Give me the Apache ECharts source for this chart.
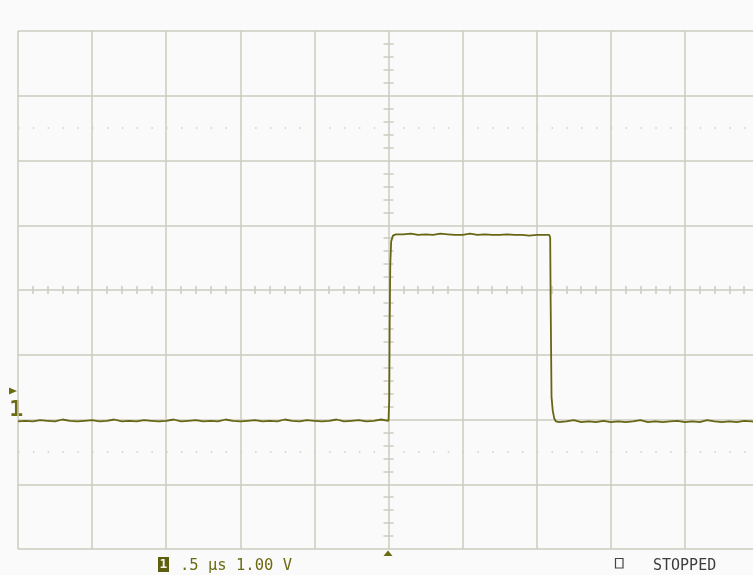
<!DOCTYPE html>
<html><head><meta charset="utf-8">
<script src="https://cdn.jsdelivr.net/npm/echarts@6/dist/echarts.min.js"></script>
<style>html,body{margin:0;padding:0;background:#fafafa}#c{width:753px;height:575px}</style>
</head><body><div id="c"></div>
<script>
// Time in microseconds (0.5 us/div), voltage in volts (1.00 V/div)
const preTime = [-2.50,-2.45,-2.40,-2.35,-2.30,-2.25,-2.20,-2.15,-2.10,-2.05,-2.00,-1.95,-1.90,-1.85,-1.80,-1.75,-1.70,-1.65,-1.60,-1.55,-1.50,-1.45,-1.40,-1.35,-1.30,-1.25,-1.20,-1.15,-1.10,-1.05,-1.00,-0.95,-0.90,-0.85,-0.80,-0.75,-0.70,-0.65,-0.60,-0.55,-0.50,-0.45,-0.40,-0.35,-0.30,-0.25,-0.20,-0.15,-0.10,-0.05,0.00];
const preVolt = [-0.03,-0.02,-0.03,-0.01,-0.02,-0.03,0.00,-0.02,-0.03,-0.02,-0.01,-0.03,-0.02,0.00,-0.03,-0.02,-0.03,-0.01,-0.02,-0.03,-0.02,0.00,-0.03,-0.02,-0.01,-0.03,-0.02,-0.03,0.00,-0.02,-0.03,-0.02,-0.01,-0.03,-0.02,-0.03,0.00,-0.02,-0.03,-0.01,-0.02,-0.03,-0.02,0.00,-0.03,-0.02,-0.01,-0.03,-0.02,0.00,-0.02];
const riseTime = [0.005,0.008,0.012,0.018,0.030,0.050];
const riseVolt = [0.30,1.50,2.40,2.75,2.84,2.86];
const topTime = [0.10,0.15,0.20,0.25,0.30,0.35,0.40,0.45,0.50,0.55,0.60,0.65,0.70,0.75,0.80,0.85,0.90,0.95,1.00,1.05];
const topVolt = [2.86,2.87,2.85,2.86,2.85,2.87,2.86,2.85,2.85,2.87,2.85,2.86,2.85,2.85,2.86,2.85,2.85,2.84,2.85,2.85];
const fallTime = [1.085,1.091,1.094,1.100,1.108,1.118,1.130];
const fallVolt = [2.85,2.81,1.85,0.35,0.14,0.02,-0.03];
const postTime = [1.15,1.20,1.25,1.30,1.35,1.40,1.45,1.50,1.55,1.60,1.65,1.70,1.75,1.80,1.85,1.90,1.95,2.00,2.05,2.10,2.15,2.20,2.25,2.30,2.35,2.40,2.45,2.50];
const postVolt = [-0.04,-0.03,-0.01,-0.04,-0.03,-0.04,-0.02,-0.04,-0.03,-0.04,-0.03,-0.01,-0.04,-0.03,-0.04,-0.03,-0.02,-0.04,-0.03,-0.04,-0.01,-0.03,-0.04,-0.03,-0.04,-0.02,-0.03,-0.04];
const dottedLevels = [-0.5, 4.5];
const bottomReadout = '.5 \u03bcs 1.00 V';
const statusText = 'STOPPED';
const channelLabel = '1';

const GRID = '#cbcbbf';
const TRACE = '#666614';
const OLIVE = '#6b6b14';
// visible time window: screen is cut a few pixels before the last graticule line
const T_MIN = -2.5, T_MAX = 2.4595;

const trace = [];
[[preTime, preVolt],[riseTime, riseVolt],[topTime, topVolt],[fallTime, fallVolt],[postTime, postVolt]].forEach(([t, v]) => {
  t.forEach((x, i) => trace.push([x, v[i]]));
});

const hidden = {axisLine:{show:false}, axisLabel:{show:false}, splitLine:{show:false}};
function centerX(inside){
  return Object.assign({type:'value', min:T_MIN, max:T_MAX, interval:0.5, position:'bottom', offset:-259,
    axisTick:{show:false, inside:inside}, minorTick:{show:true, splitNumber:5, length:4, lineStyle:{color:GRID, width:1.5}}}, hidden);
}
function centerY(inside){
  return Object.assign({type:'value', min:-2, max:6, interval:1, position:'left', offset:-370.5,
    axisTick:{show:false, inside:inside}, minorTick:{show:true, splitNumber:5, length:5, lineStyle:{color:GRID, width:1.5}}}, hidden);
}

const chart = echarts.init(document.getElementById('c'));
chart.setOption({
  backgroundColor:'#fafafa',
  animation:false,
  grid:{left:18, right:0, top:31, bottom:26, containLabel:false},
  xAxis:[
    {type:'value', min:T_MIN, max:T_MAX, interval:0.5, axisLine:{show:false}, axisTick:{show:false}, axisLabel:{show:false},
     splitLine:{show:true, showMinLine:true, showMaxLine:false, lineStyle:{color:GRID, width:1.5}}},
    centerX(false), centerX(true)
  ],
  yAxis:[
    {type:'value', min:-2, max:6, interval:1, axisLine:{show:false}, axisTick:{show:false}, axisLabel:{show:false},
     splitLine:{show:true, showMinLine:true, showMaxLine:true, lineStyle:{color:GRID, width:1.5}}},
    centerY(false), centerY(true)
  ],
  series:[{
    type:'line', data:trace, xAxisIndex:0, yAxisIndex:0, showSymbol:false, symbol:'none',
    lineStyle:{color:TRACE, width:1.8}, z:5,
    markLine:{silent:true, symbol:'none', label:{show:false},
      lineStyle:{type:[1.5,13.32], color:'#cdcdcd', width:1.5},
      data: dottedLevels.map(v => ({yAxis:v}))}
  }],
  graphic:[
    {type:'polygon', shape:{points:[[9,387.5],[9,394.5],[17,391]]}, style:{fill:OLIVE}},
    {type:'text', x:9, y:411, style:{text:channelLabel, font:'bold 21px "DejaVu Sans"', fill:OLIVE, verticalAlign:'middle'}},
    {type:'polygon', shape:{points:[[383.5,556],[392.5,556],[388,550.5]]}, style:{fill:OLIVE}},
    {type:'rect', shape:{x:158, y:557, width:11, height:15}, style:{fill:'#5e5e10'}},
    {type:'text', x:163.5, y:565, style:{text:channelLabel, font:'bold 13px "DejaVu Sans Mono"', fill:'#f4f4e4', align:'center', verticalAlign:'middle'}},
    {type:'text', x:180, y:566, style:{text:bottomReadout, font:'15.5px "DejaVu Sans Mono"', fill:OLIVE, verticalAlign:'middle'}},
    {type:'rect', shape:{x:615.5, y:558.5, width:7.5, height:9.5}, style:{fill:'none', stroke:'#444', lineWidth:1.2}},
    {type:'text', x:653, y:566, style:{text:statusText, font:'15px "DejaVu Sans Mono"', fill:'#3c3c3c', verticalAlign:'middle'}}
  ]
});
</script></body></html>
